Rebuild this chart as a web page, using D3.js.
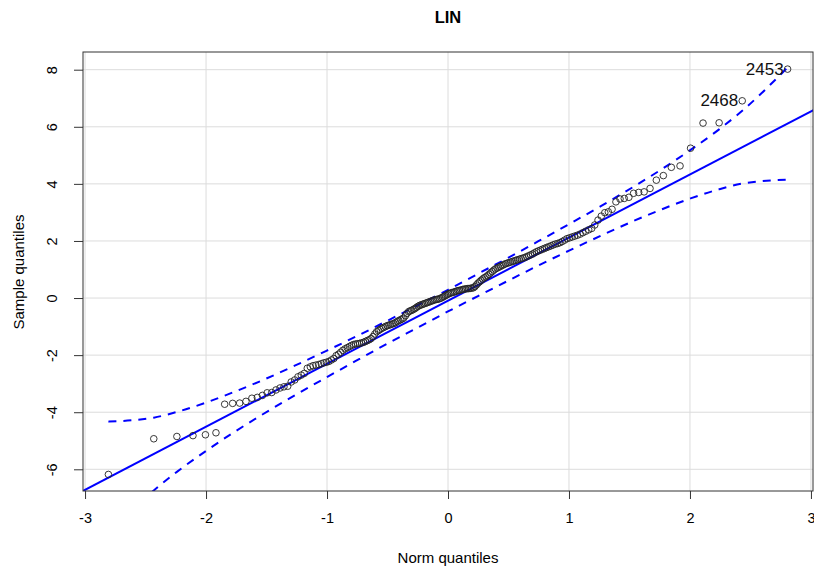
<!DOCTYPE html>
<html>
<head>
<meta charset="utf-8">
<script src="https://cdn.jsdelivr.net/npm/d3@7"></script>
<style>
  html, body { margin: 0; padding: 0; background: #fff; }
  svg { display: block; font-family: "Liberation Sans", Arial, Helvetica, sans-serif; }
</style>
</head>
<body>
<svg id="chart" width="814" height="569"></svg>
<script>
// Theoretical normal quantiles (x) for the 200 ordered observations
const normQuantiles = [
  -2.807,-2.432,-2.241,-2.108,-2.005,-1.918,-1.846,-1.780,-1.722,-1.670,
  -1.621,-1.576,-1.534,-1.495,-1.457,-1.422,-1.388,-1.356,-1.325,-1.296,
  -1.267,-1.240,-1.213,-1.188,-1.163,-1.138,-1.115,-1.092,-1.069,-1.047,
  -1.026,-1.005,-0.984,-0.964,-0.944,-0.925,-0.906,-0.887,-0.869,-0.851,
  -0.833,-0.815,-0.798,-0.781,-0.764,-0.747,-0.731,-0.714,-0.698,-0.682,
  -0.667,-0.651,-0.636,-0.620,-0.605,-0.590,-0.575,-0.561,-0.546,-0.532,
  -0.517,-0.503,-0.489,-0.475,-0.461,-0.447,-0.433,-0.419,-0.406,-0.392,
  -0.379,-0.366,-0.352,-0.339,-0.326,-0.313,-0.300,-0.287,-0.274,-0.261,
  -0.248,-0.235,-0.222,-0.210,-0.197,-0.184,-0.171,-0.159,-0.146,-0.133,
  -0.121,-0.108,-0.094,-0.082,-0.069,-0.056,-0.044,-0.031,-0.019,-0.006,
   0.006, 0.019, 0.031, 0.044, 0.056, 0.069, 0.082, 0.094, 0.108, 0.121,
   0.133, 0.146, 0.159, 0.171, 0.184, 0.197, 0.210, 0.222, 0.235, 0.248,
   0.261, 0.274, 0.287, 0.300, 0.313, 0.326, 0.339, 0.352, 0.366, 0.379,
   0.392, 0.406, 0.419, 0.433, 0.447, 0.461, 0.475, 0.489, 0.503, 0.517,
   0.532, 0.546, 0.561, 0.575, 0.590, 0.605, 0.620, 0.636, 0.651, 0.667,
   0.682, 0.698, 0.714, 0.731, 0.747, 0.764, 0.781, 0.798, 0.815, 0.833,
   0.851, 0.869, 0.887, 0.906, 0.925, 0.944, 0.964, 0.984, 1.005, 1.026,
   1.047, 1.069, 1.092, 1.115, 1.138, 1.163, 1.188, 1.213, 1.240, 1.267,
   1.296, 1.325, 1.356, 1.388, 1.422, 1.457, 1.495, 1.534, 1.576, 1.621,
   1.670, 1.722, 1.780, 1.846, 1.918, 2.005, 2.108, 2.241, 2.432, 2.807
];

// Ordered sample values (y)
const sampleQuantiles = [
  -6.18,-4.93,-4.85,-4.82,-4.79,-4.72,-3.72,-3.69,-3.68,-3.62,
  -3.51,-3.48,-3.41,-3.32,-3.31,-3.22,-3.15,-3.11,-3.09,-2.94,
  -2.87,-2.76,-2.70,-2.64,-2.46,-2.41,-2.37,-2.35,-2.33,-2.30,
  -2.27,-2.25,-2.22,-2.17,-2.12,-2.02,-1.97,-1.90,-1.83,-1.78,
  -1.74,-1.70,-1.66,-1.63,-1.61,-1.60,-1.59,-1.57,-1.55,-1.52,
  -1.49,-1.46,-1.42,-1.35,-1.26,-1.18,-1.14,-1.10,-1.06,-1.03,
  -1.00,-0.97,-0.95,-0.93,-0.91,-0.89,-0.86,-0.82,-0.79,-0.76,
  -0.73,-0.70,-0.62,-0.54,-0.48,-0.45,-0.43,-0.40,-0.37,-0.33,
  -0.29,-0.26,-0.24,-0.22,-0.20,-0.18,-0.16,-0.14,-0.12,-0.10,
  -0.08,-0.06,-0.05,-0.04,-0.02, 0.00, 0.03, 0.06, 0.09, 0.12,
   0.15, 0.17, 0.19, 0.20, 0.22, 0.24, 0.26, 0.27, 0.28, 0.30,
   0.31, 0.32, 0.33, 0.33, 0.34, 0.35, 0.36, 0.40, 0.46, 0.52,
   0.57, 0.62, 0.67, 0.71, 0.74, 0.78, 0.83, 0.88, 0.93, 0.98,
   1.02, 1.05, 1.08, 1.11, 1.14, 1.17, 1.20, 1.22, 1.24, 1.26,
   1.28, 1.30, 1.32, 1.34, 1.36, 1.38, 1.40, 1.42, 1.45, 1.48,
   1.51, 1.54, 1.58, 1.62, 1.65, 1.68, 1.71, 1.74, 1.77, 1.80,
   1.83, 1.86, 1.89, 1.91, 1.94, 1.98, 2.03, 2.08, 2.11, 2.14,
   2.17, 2.20, 2.24, 2.29, 2.34, 2.39, 2.44, 2.56, 2.73, 2.87,
   2.99, 3.02, 3.11, 3.37, 3.47, 3.49, 3.53, 3.67, 3.70, 3.72,
   3.84, 4.13, 4.29, 4.58, 4.63, 5.25, 6.13, 6.14, 6.91, 8.02
];

// Identified observations
const idLabels = ["2453", "2468"];
const idIndex  = [199, 198];

// Reference line: intercept and slope
const refIntercept = -0.09;
const refSlope = 2.21;

// Pointwise confidence envelope
const envX     = [-2.807,-2.432,-2.241,-2.005,-1.780,-1.534,-1.267,-1.005,-0.747,-0.489,-0.248, 0.000, 0.248, 0.489, 0.747, 1.005, 1.267, 1.534, 1.780, 2.005, 2.241, 2.432, 2.807];
const envUpper = [-4.33,-4.19,-3.99,-3.67,-3.31,-2.88,-2.37,-1.85,-1.32,-0.77,-0.25, 0.29, 0.85, 1.39, 1.99, 2.60, 3.23, 3.90, 4.55, 5.19, 5.91, 6.56, 8.08];
const envLower = [-8.26,-6.74,-6.09,-5.37,-4.73,-4.08,-3.41,-2.78,-2.17,-1.57,-1.03,-0.47, 0.07, 0.59, 1.14, 1.67, 2.19, 2.70, 3.13, 3.49, 3.81, 4.01, 4.15];

// Axis ticks
const xTicks = [-3, -2, -1, 0, 1, 2, 3];
const yTicks = [-6, -4, -2, 0, 2, 4, 6, 8];

const titleText = "LIN";
const xLabel = "Norm quantiles";
const yLabel = "Sample quantiles";

// ---- drawing ----
const svg = d3.select("#chart");
const plot = { left: 83, right: 813, top: 52, bottom: 491 };
const fontFamily = "'Liberation Sans', Arial, sans-serif";

const x = d3.scaleLinear().domain([-3.017, 3.017]).range([plot.left, plot.right]);
const y = d3.scaleLinear().domain([-6.76, 8.62]).range([plot.bottom, plot.top]);

svg.append("defs").append("clipPath").attr("id", "plotClip")
  .append("rect")
  .attr("x", plot.left).attr("y", plot.top)
  .attr("width", plot.right - plot.left).attr("height", plot.bottom - plot.top);

// grid
const grid = svg.append("g").attr("stroke", "#dcdcdc").attr("stroke-width", 1);
grid.selectAll("line.vx").data(xTicks).join("line")
  .attr("x1", d => x(d)).attr("x2", d => x(d))
  .attr("y1", plot.top).attr("y2", plot.bottom);
grid.selectAll("line.hy").data(yTicks).join("line")
  .attr("x1", plot.left).attr("x2", plot.right)
  .attr("y1", d => y(d)).attr("y2", d => y(d));

// axes (plain hyphen-minus in labels)
const plainNum = d => String(d);
const xAxis = d3.axisBottom(x).tickValues(xTicks).tickSize(8).tickPadding(14)
  .tickFormat(plainNum);
const gx = svg.append("g").attr("transform", `translate(0,${plot.bottom})`).call(xAxis);
gx.select(".domain").remove();
gx.selectAll(".tick line").attr("stroke", "#333");
gx.selectAll(".tick text").attr("font-size", 14.5).attr("fill", "#000")
  .attr("font-family", fontFamily);

const yAxis = d3.axisLeft(y).tickValues(yTicks).tickSize(9).tickPadding(0)
  .tickFormat(plainNum);
const gy = svg.append("g").attr("transform", `translate(${plot.left},0)`).call(yAxis);
gy.select(".domain").remove();
gy.selectAll(".tick line").attr("stroke", "#333");
gy.selectAll(".tick text")
  .attr("font-size", 14.5).attr("fill", "#000")
  .attr("font-family", fontFamily)
  .attr("x", null).attr("dy", null)
  .attr("text-anchor", "middle")
  .attr("transform", "translate(-31,0) rotate(-90)")
  .attr("dominant-baseline", "central");

// reference line and envelope
const clipped = svg.append("g").attr("clip-path", "url(#plotClip)");
const xr = x.domain();
clipped.append("line")
  .attr("x1", x(xr[0] - 0.1)).attr("y1", y(refIntercept + refSlope * (xr[0] - 0.1)))
  .attr("x2", x(xr[1] + 0.1)).attr("y2", y(refIntercept + refSlope * (xr[1] + 0.1)))
  .attr("stroke", "#0000ff").attr("stroke-width", 2);

const envLine = (vals) => d3.line()
  .x((d, i) => x(envX[i])).y(d => y(d))
  .curve(d3.curveMonotoneX)(vals);
[envUpper, envLower].forEach(vals => {
  clipped.append("path").attr("d", envLine(vals))
    .attr("fill", "none").attr("stroke", "#0000ff").attr("stroke-width", 2)
    .attr("stroke-dasharray", "8,7");
});

// points
svg.append("g").selectAll("circle").data(sampleQuantiles).join("circle")
  .attr("cx", (d, i) => x(normQuantiles[i]))
  .attr("cy", d => y(d))
  .attr("r", 3.3)
  .attr("fill", "none").attr("stroke", "#222").attr("stroke-width", 0.9);

// identified points
svg.append("g").selectAll("text").data(idLabels).join("text")
  .attr("x", (d, i) => x(normQuantiles[idIndex[i]]) - 4)
  .attr("y", (d, i) => y(sampleQuantiles[idIndex[i]]))
  .attr("text-anchor", "end").attr("dominant-baseline", "central")
  .attr("font-size", 17).attr("fill", "#111")
  .text(d => d);

// frame
svg.append("rect")
  .attr("x", plot.left).attr("y", plot.top)
  .attr("width", plot.right - plot.left).attr("height", plot.bottom - plot.top)
  .attr("fill", "none").attr("stroke", "#333").attr("stroke-width", 1);

// titles
svg.append("text").attr("x", 448).attr("y", 17)
  .attr("text-anchor", "middle").attr("dominant-baseline", "central")
  .attr("font-size", 16.5).attr("font-weight", "bold").text(titleText);
svg.append("text").attr("x", 448).attr("y", 557)
  .attr("text-anchor", "middle").attr("dominant-baseline", "central")
  .attr("font-size", 15).text(xLabel);
svg.append("text")
  .attr("transform", "translate(18,272) rotate(-90)")
  .attr("text-anchor", "middle").attr("dominant-baseline", "central")
  .attr("font-size", 15).text(yLabel);
</script>
</body>
</html>
